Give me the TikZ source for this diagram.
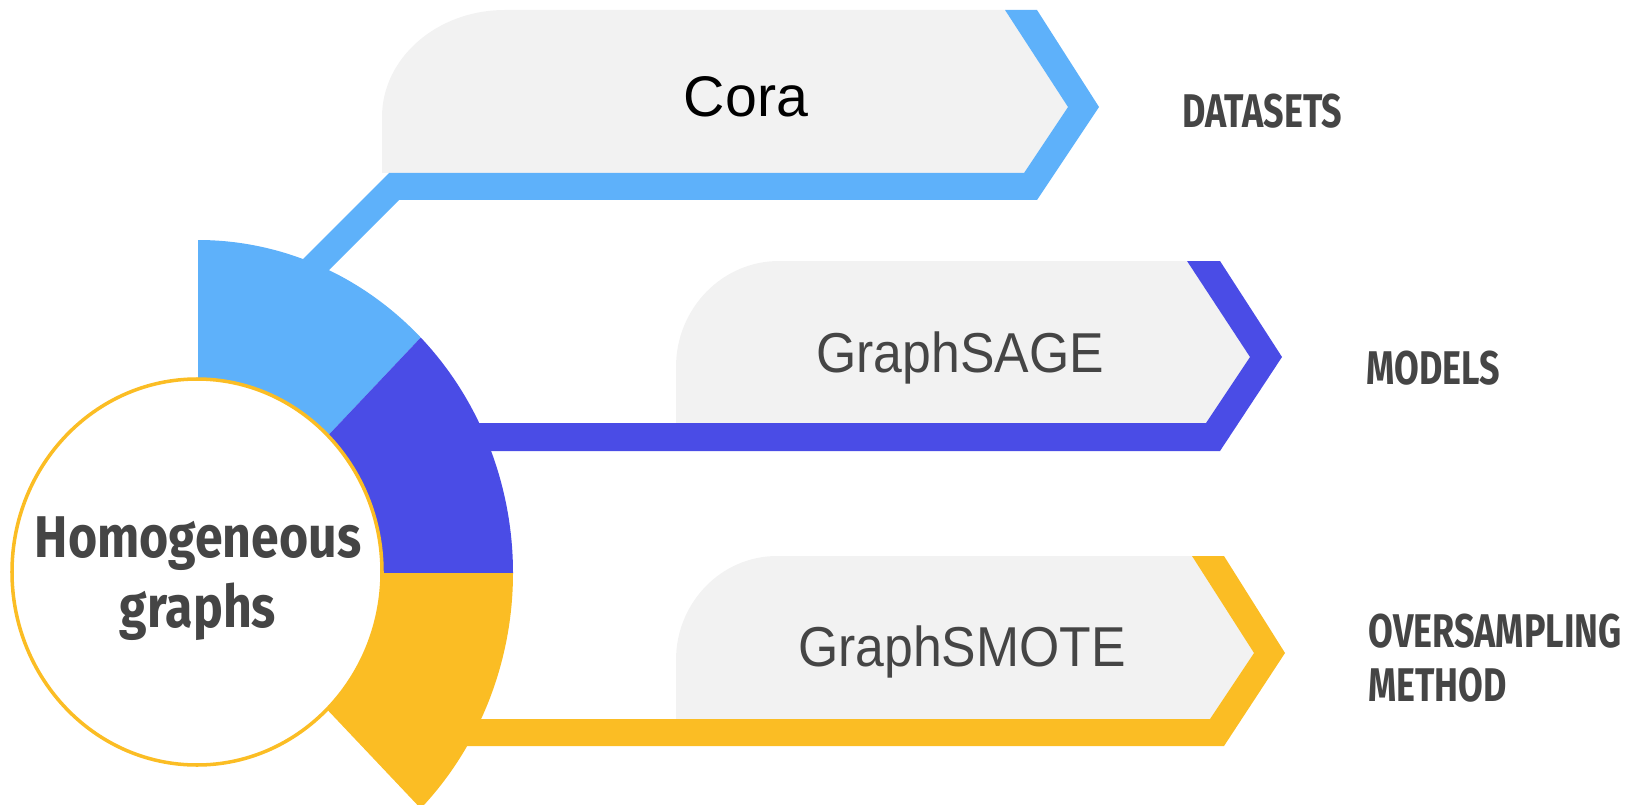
\documentclass[tikz,border=0pt]{standalone}
\usepackage{fontspec}
\usepackage{tikz}
\setmainfont{Liberation Sans}
\newfontfamily\corafont{Liberation Sans}
\newfontfamily\boxfont[FakeStretch=0.92]{Liberation Sans}
\newfontfamily\hubfont[FakeStretch=0.85]{Fira Sans}
\newfontfamily\tagfont[FakeStretch=0.76]{Fira Sans}
\definecolor{skyblue}{HTML}{5EB1FA}
\definecolor{indigo}{HTML}{4A4CE6}
\definecolor{amber}{HTML}{FBBD24}
\definecolor{plategray}{HTML}{F2F2F2}
\definecolor{inkgray}{HTML}{454545}

\begin{document}
\begin{tikzpicture}[x=0.02cm,y=-0.02cm,
    plate/.style={fill=plategray},
    boxtext/.style={anchor=base,inner sep=0pt,text=inkgray,font=\boxfont\fontsize{32pt}{38pt}\selectfont},
    tagtext/.style={anchor=base west,inner sep=0pt,align=left,text=inkgray,font=\tagfont\bfseries\fontsize{26.9pt}{30.7pt}\selectfont},
    hubtext/.style={anchor=base,inner sep=0pt,align=center,text=inkgray,font=\hubfont\bfseries\fontsize{33.5pt}{39.8pt}\selectfont}
  ]
    \useasboundingbox (0,0) rectangle (1635,804);
    % grey plates
    \fill[plate] (382,173) -- (382,117) arc[start angle=180,end angle=270,x radius=123,y radius=107]
      -- (1005,10) -- (1068,107) -- (1024,173) -- cycle;
    \fill[plate] (676,423) -- (676,367) arc[start angle=180,end angle=270,x radius=103,y radius=106]
      -- (1187,261) -- (1250,357) -- (1206,423) -- cycle;
    \fill[plate] (676,719) -- (676,660) arc[start angle=180,end angle=270,x radius=101,y radius=104]
      -- (1192,556) -- (1254,653) -- (1210,719) -- cycle;
    % coloured bands
    \fill[skyblue] (1005,10) -- (1037,10) -- (1099,107) -- (1037,200) -- (399,200) -- (310,289)
      -- (280,282) -- (389,173) -- (1024,173) -- (1068,107) -- cycle;
    \fill[indigo] (1187,261) -- (1220,261) -- (1282,357) -- (1220,451) -- (440,451) -- (440,423)
      -- (1206,423) -- (1250,357) -- cycle;
    \fill[amber] (1192,556) -- (1224,556) -- (1285,653) -- (1224,746) -- (430,746) -- (430,719)
      -- (1210,719) -- (1254,653) -- cycle;
    % ring
    \coordinate (hub) at (198,573);
    \fill[skyblue] (hub) -- ++(0,-333) arc[start angle=-90,end angle=-45,x radius=315,y radius=333] -- cycle;
    \fill[indigo] (hub) -- ++(315,0) arc[start angle=0,end angle=-45,x radius=315,y radius=333] -- cycle;
    \fill[amber] (hub) -- ++(315,0) arc[start angle=0,end angle=45,x radius=315,y radius=333] -- cycle;
    \filldraw[fill=white,draw=amber,line width=2pt] (197,572) ellipse[x radius=185,y radius=193];

    \node[hubtext] (homog) at (198,627) {Homogeneous\\graphs};
    \node[anchor=base,inner sep=0pt,font=\corafont\fontsize{32.6pt}{39pt}\selectfont] (cora) at (746,117) {Cora};
    \node[boxtext] (sage) at (960,372) {GraphSAGE};
    \node[boxtext] (smote) at (962,666) {GraphSMOTE};
    \node[tagtext] (datasets) at (1182,128) {DATASETS};
    \node[tagtext] (models) at (1366,384) {MODELS};
    \node[tagtext] (method) at (1368,701) {OVERSAMPLING\\METHOD};
\end{tikzpicture}
\end{document}
